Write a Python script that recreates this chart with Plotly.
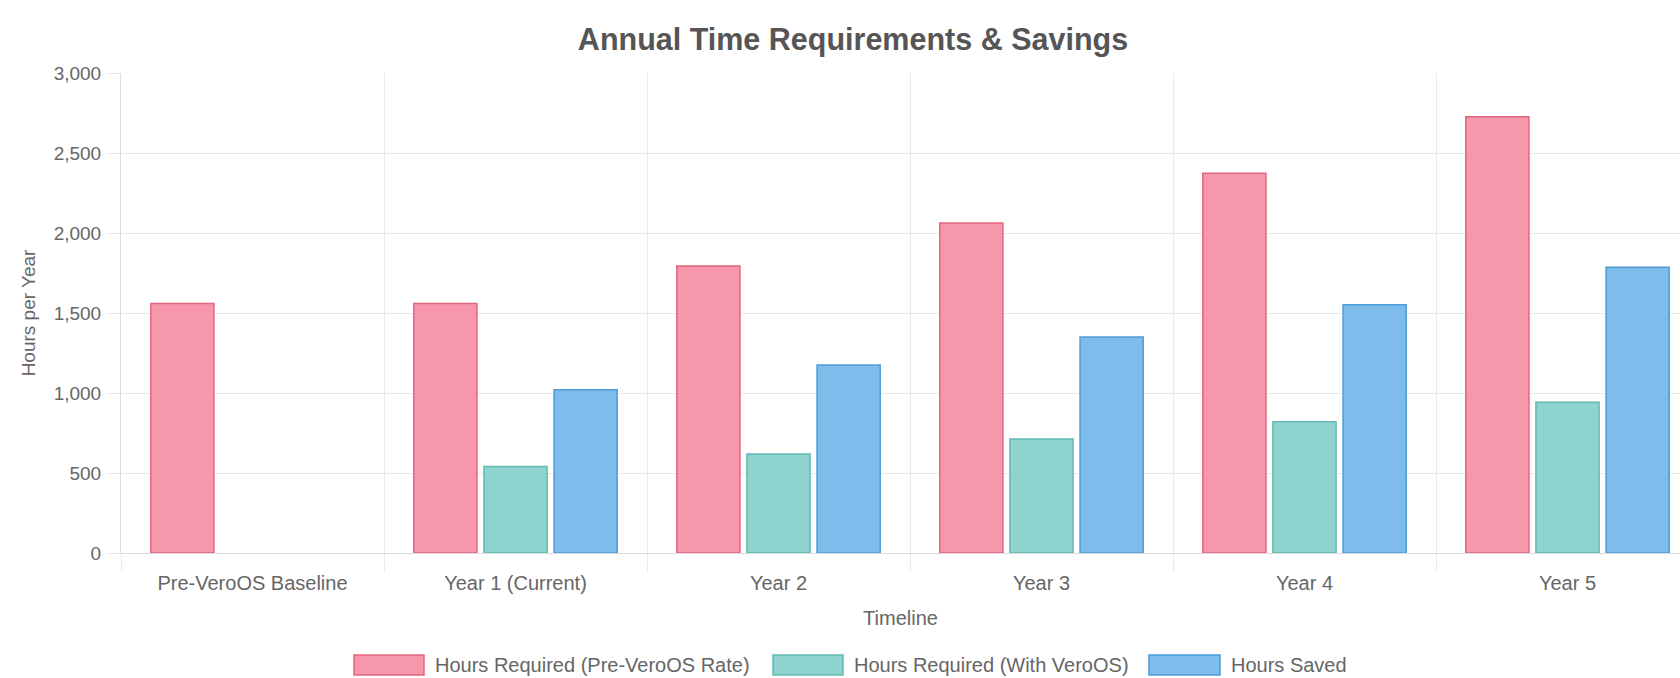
import plotly.graph_objects as go

# ---- data ----
categories = ["Pre-VeroOS Baseline", "Year 1 (Current)", "Year 2", "Year 3", "Year 4", "Year 5"]
series_names = ["Hours Required (Pre-VeroOS Rate)", "Hours Required (With VeroOS)", "Hours Saved"]
hours_pre_rate = [1560, 1560, 1794, 2063, 2373, 2727]
hours_with_vero = [None, 540, 619, 712, 820, 942]
hours_saved = [None, 1020, 1175, 1350, 1552, 1786]
y_tick_values = [0, 500, 1000, 1500, 2000, 2500, 3000]
y_tick_labels = ["0", "500", "1,000", "1,500", "2,000", "2,500", "3,000"]

# ---- style ----
W, H = 1680, 678
PL, PR, PT, PB = 121, 1680, 73, 553  # plot area in pixels
CAT_W = 263.0
fills = ["#F797AC", "#8FD3CE", "#7DBCEB"]
borders = ["#E3657F", "#62B9B2", "#4C9CD8"]
FONT = "Liberation Sans, Arial, Helvetica, sans-serif"
GRID = "#e9e9e9"
TXT = "#666666"

x_max = (PR - PL) / CAT_W - 0.5

fig = go.Figure()
for name, vals, fc, bc in zip(series_names, [hours_pre_rate, hours_with_vero, hours_saved], fills, borders):
    fig.add_trace(go.Bar(
        x=categories, y=vals, name=name,
        marker=dict(color=fc, line=dict(color=bc, width=1.5)),
        showlegend=False,
    ))

def px_x(px):
    return (px - PL) / (PR - PL)

def px_y(py):
    return (PB - py) / (PB - PT)

# custom legend (wide swatches like the original)
legend_items = [
    (354, 424, 433),
    (773, 843, 852),
    (1149, 1220, 1229),
]
shapes = []
annotations = []
for (bx0, bx1, tx), name, fc, bc in zip(legend_items, series_names, fills, borders):
    shapes.append(dict(type="rect", xref="paper", yref="paper",
                       x0=px_x(bx0), x1=px_x(bx1), y0=px_y(675), y1=px_y(655),
                       fillcolor=fc, line=dict(color=bc, width=1.5)))
    annotations.append(dict(text=name, xref="paper", yref="paper",
                            x=px_x(tx), y=px_y(665), xanchor="left", yanchor="middle",
                            showarrow=False, font=dict(family=FONT, size=20, color=TXT)))

fig.update_layout(
    width=W, height=H,
    margin=dict(l=PL, r=W - PR, t=PT, b=H - PB, autoexpand=False),
    paper_bgcolor="white", plot_bgcolor="white",
    barmode="group", bargap=0.2, bargroupgap=0.1,
    title=dict(text="Annual Time Requirements & Savings", x=853 / W, xref="container",
               xanchor="center", y=1 - 39 / H, yref="container", yanchor="middle",
               font=dict(family=FONT, size=30.5, color="#555555", weight="bold")),
    font=dict(family=FONT, size=20, color=TXT),
    shapes=shapes,
    annotations=annotations,
)
fig.update_xaxes(
    range=[-0.5, x_max], tickson="boundaries", showgrid=True, gridcolor=GRID, gridwidth=1,
    ticks="outside", ticklen=17, tickcolor=GRID, tickfont=dict(family=FONT, size=20, color=TXT),
    ticklabelstandoff=12,
    showline=True, linecolor="#dcdcdc", linewidth=1,
    title=dict(text="Timeline", font=dict(family=FONT, size=20, color=TXT), standoff=17),
    automargin=False,
)
fig.update_yaxes(
    range=[0, 3000], tickvals=y_tick_values, ticktext=y_tick_labels,
    showgrid=True, gridcolor=GRID, gridwidth=1, zeroline=False,
    ticks="outside", ticklen=12, tickcolor=GRID, ticklabelstandoff=3,
    tickfont=dict(family=FONT, size=19, color=TXT),
    showline=True, linecolor="#dcdcdc", linewidth=1,
    title=dict(text="Hours per Year", font=dict(family=FONT, size=19, color=TXT), standoff=13),
    automargin=False,
)

fig.write_html("out.html")
